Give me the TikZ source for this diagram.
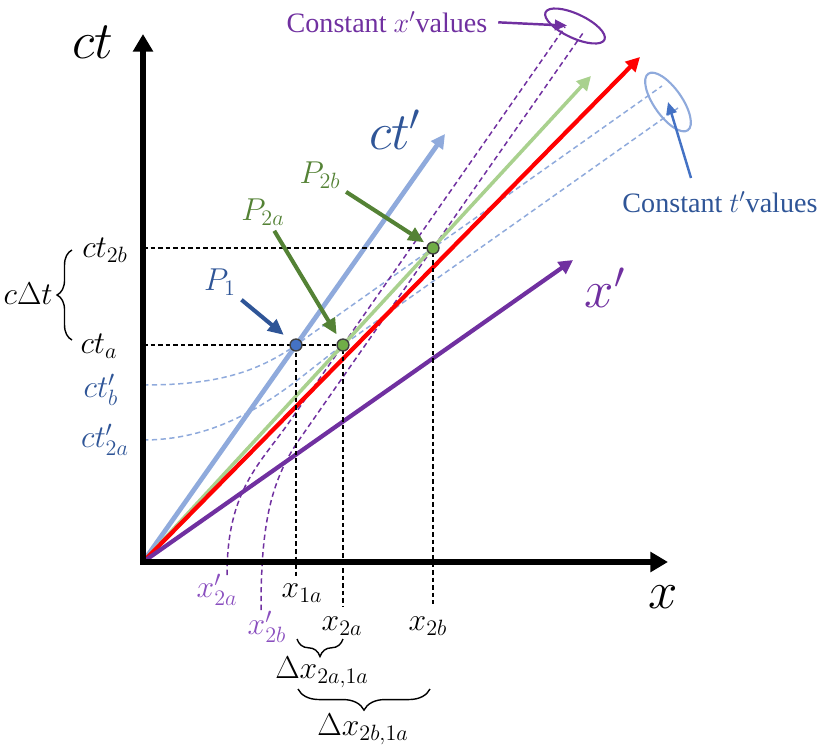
\RequirePackage{fix-cm}
\documentclass[tikz,border=0pt]{standalone}
\usepackage{fontspec}
\setmainfont{Liberation Serif}
\usepackage{tikz}
\usetikzlibrary{arrows.meta,shapes.geometric,decorations.pathreplacing}

\definecolor{ctblue}{HTML}{8FAADC}
\definecolor{darkblue}{HTML}{2F5597}
\definecolor{midblue}{HTML}{4472C4}
\definecolor{lgreen}{HTML}{A9D18E}
\definecolor{dgreen}{HTML}{548235}
\definecolor{dotgreen}{HTML}{70AD47}
\definecolor{purp}{HTML}{7030A0}
\definecolor{lightpurp}{HTML}{8A4FBF}

\begin{document}
\begin{tikzpicture}[
  x=0.02cm, y=-0.02cm,
  axis/.style={
    line width=3.4pt,
    -{Triangle[length=10pt,width=11pt]}
  },
  frameaxis/.style={
    line width=2.4pt,
    -{Triangle[length=8pt,width=8pt]}
  },
  guide/.style={
    line width=1.1pt,
    dash pattern=on 2.6pt off 1.7pt
  },
  constline/.style={
    line width=0.85pt,
    dash pattern=on 3pt off 2pt
  },
  biglabel/.style={
    font=\fontsize{30}{32}\selectfont,
    inner sep=0pt
  },
  ticklab/.style={
    font=\fontsize{18}{20}\selectfont,
    inner sep=0pt
  },
  plab/.style={
    font=\fontsize{18}{20}\selectfont,
    inner sep=3pt
  },
  note/.style={
    font=\fontsize{16}{18}\selectfont,
    inner sep=2pt
  },
  pointer/.style={
    line width=2.3pt,
    -{Triangle[length=9pt,width=8pt]}
  },
  event/.style={
    circle,
    draw=black!75,
    line width=0.8pt,
    inner sep=0pt,
    minimum size=6.8pt
  },
  curly/.style={
    decorate,
    decoration={brace,amplitude=#1},
    line width=0.8pt
  },
  ring/.style={
    ellipse,
    draw,
    line width=1.2pt,
    inner sep=0pt
  }
]
\useasboundingbox (0,0) rectangle (821,744);

% Events
\coordinate (O) at (143,562);
\coordinate (P1) at (296,345);
\coordinate (P2a) at (343,345);
\coordinate (P2b) at (433,248);

% Constant t' lines
\coordinate (tb0) at (143,385);
\coordinate (tb1) at (662,86);
\coordinate (ta0) at (143,440);
\coordinate (ta1) at (678,108);
\draw[constline, ctblue] (tb0) .. controls (215,385) and (256,373) .. (P1) -- (P2b) -- (tb1);
\draw[constline, ctblue] (ta0) .. controls (240,440) and (300,375) .. (P2a) -- (ta1);

% Constant x' lines
\coordinate (xa0) at (227,575);
\coordinate (xa1) at (565,27);
\coordinate (xb0) at (261,610);
\coordinate (xb1) at (583,33);
\draw[constline, purp] (xa0) .. controls (227,490) and (260,464) .. (290,421) -- (P2a) -- (xa1);
\draw[constline, purp] (xb0) .. controls (261,530) and (269,483) .. (299,440) -- (P2b) -- (xb1);

% Moving frame and light-like lines
\draw[frameaxis, ctblue, line width=2.7pt] (O) -- (445,134);
\draw[frameaxis, lgreen, line width=2pt] (O) -- (591,76);
\draw[frameaxis, red] (O) -- (640,57);
\draw[frameaxis, purp] (O) -- (573,260);

% Rest frame axes
\draw[axis] ([yshift=-1.7pt]O) -- (143,34);
\draw[axis] ([xshift=-1.7pt]O) -- (668,562);

% Projections
\draw[guide] (143,248) -- (P2b) -- (433,604);
\draw[guide] (143,345) -- (P2a) -- (343,607);
\draw[guide] (P1) -- (296,578);

\node[event, fill=midblue] (eP1) at (P1) {};
\node[event, fill=dotgreen] (eP2a) at (P2a) {};
\node[event, fill=dotgreen] (eP2b) at (P2b) {};

% Axis labels
\node[biglabel] (ctlab) at (93,42) {$ct$};
\node[biglabel] (xlab) at (663,597) {$x$};
\node[biglabel, text=darkblue] (ctplab) at (395,130) {$ct'$};
\node[biglabel, text=purp] (xplab) at (605,288) {$x'$};

% Time readings
\node[ticklab] (ct2b) at (105,250) {$ct_{2b}$};
\node[ticklab] (cta) at (99,346) {$ct_a$};
\node[ticklab, text=darkblue] (ctpb) at (101,390) {$ct'_b$};
\node[ticklab, text=darkblue] (ctp2a) at (105,440) {$ct'_{2a}$};
\draw[curly=8.5pt] (72,340) -- (72,250);
\node[ticklab, anchor=east] (cdt) at (53,294) {$c\Delta t$};

% Position readings
\node[ticklab, text=lightpurp] (xp2a) at (217,590) {$x'_{2a}$};
\node[ticklab] (x1a) at (302,593) {$x_{1a}$};
\node[ticklab, text=lightpurp] (xp2b) at (267,627) {$x'_{2b}$};
\node[ticklab] (x2a) at (342,626) {$x_{2a}$};
\node[ticklab] (x2b) at (428,626) {$x_{2b}$};
\draw[curly=10pt] (343,639) -- (297,639);
\node[ticklab] (dx2a) at (322,672) {$\Delta x_{2a,1a}$};
\draw[curly=12pt] (430,689) -- (298,689);
\node[ticklab] (dx2b) at (363,729) {$\Delta x_{2b,1a}$};

% Event labels
\node[plab, text=darkblue] (lP1) at (220,282) {$P_1$};
\node[plab, text=dgreen] (lP2a) at (263,212) {$P_{2a}$};
\node[plab, text=dgreen] (lP2b) at (320,175) {$P_{2b}$};
\draw[pointer, darkblue, shorten >=9pt] (lP1) -- (P1);
\draw[pointer, dgreen, shorten >=7pt] (lP2a) -- (P2a);
\draw[pointer, dgreen, shorten >=6pt] (lP2b) -- (P2b);

% Constant value notes
\node[ring, draw=purp, minimum width=1.3cm, minimum height=0.48cm, rotate=-25] (xring) at (575,26) {};
\node[ring, draw=ctblue, minimum width=1.38cm, minimum height=0.56cm, rotate=-55] (tring) at (668,102) {};
\node[note, text=purp] (cxv) at (387,22) {Constant $x'$values};
\node[note, text=darkblue] (ctv) at (720,202) {Constant $t'$values};
\coordinate (ctvtail) at (691,178);
\draw[purp, line width=1.4pt, -{Triangle[length=7pt,width=6pt]}, shorten <=4pt, shorten >=4.5pt] (cxv.east) -- (xring.center);
\draw[midblue, line width=1.4pt, -{Triangle[length=7pt,width=6pt]}] (ctvtail) -- (tring.center);

\end{tikzpicture}
\end{document}
